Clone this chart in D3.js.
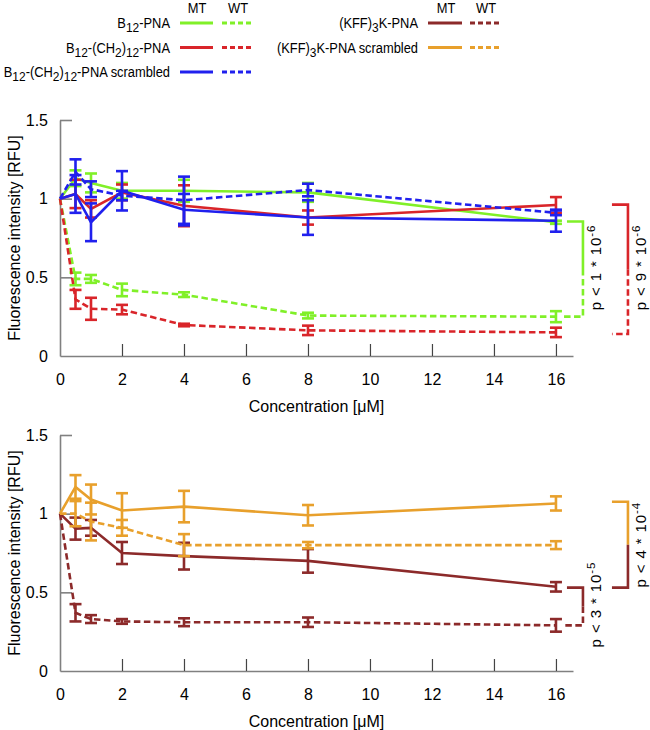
<!DOCTYPE html>
<html><head><meta charset="utf-8">
<script src="https://cdn.jsdelivr.net/npm/d3@7"></script>
<style>
body{margin:0;background:#fff;}
svg{display:block;font-family:"Liberation Sans",Arial,sans-serif;}
</style></head><body>
<svg id="c" width="650" height="730"></svg>
<script>
// ---------- data ----------
const conc = [0, 0.5, 1, 2, 4, 8, 16];
const xTicks = [0, 2, 4, 6, 8, 10, 12, 14, 16];
const yTicks = [0, 0.5, 1, 1.5];
const yTickLabels = ["0", "0.5", "1", "1.5"];

// top panel
const b12pnaMT      = [1, 1.13, 1.10, 1.05, 1.05, 1.04, 0.85];
const b12pnaMTErr   = [0, 0.05, 0.06, 0.05, 0.07, 0.06, 0.01];
const b12pnaWT      = [1, 0.49, 0.49, 0.42, 0.39, 0.257, 0.25];
const b12pnaWTErr   = [0, 0.04, 0.025, 0.04, 0.015, 0.018, 0.035];
const b12ch2MT      = [1, 1.03, 0.935, 1.04, 0.955, 0.88, 0.96];
const b12ch2MTErr   = [0, 0.09, 0.055, 0.05, 0.13, 0.045, 0.05];
const b12ch2WT      = [1, 0.36, 0.30, 0.295, 0.197, 0.163, 0.15];
const b12ch2WTErr   = [0, 0.06, 0.07, 0.03, 0.008, 0.03, 0.03];
const b12scrMT      = [1, 1.03, 0.85, 1.05, 0.93, 0.88, 0.86];
const b12scrMTErr   = [0, 0.12, 0.12, 0.125, 0.10, 0.11, 0.07];
const b12scrWT      = [1, 1.17, 1.06, 1.02, 0.99, 1.055, 0.91];
const b12scrWTErr   = [0, 0.08, 0.05, 0.03, 0.15, 0.04, 0.015];

// bottom panel
const kffMT         = [1, 0.905, 0.91, 0.75, 0.73, 0.70, 0.535];
const kffMTErr      = [0, 0.07, 0.05, 0.07, 0.085, 0.075, 0.03];
const kffWT         = [1, 0.37, 0.33, 0.315, 0.31, 0.31, 0.29];
const kffWTErr      = [0, 0.055, 0.025, 0.015, 0.025, 0.03, 0.04];
const kffScrMT      = [1, 1.17, 1.09, 1.02, 1.045, 0.99, 1.065];
const kffScrMTErr   = [0, 0.075, 0.095, 0.11, 0.10, 0.065, 0.045];
const kffScrWT      = [1, 1.0, 0.95, 0.91, 0.80, 0.80, 0.80];
const kffScrWTErr   = [0, 0.08, 0.12, 0.05, 0.07, 0.02, 0.025];

const cGreen = "#80f028", cRed = "#d9252a", cBlue = "#2020ee",
      cMaroon = "#8c2a2a", cOrange = "#e8a02c";

const legendLeft = [
  {parts: [["B",0],["12",1],["-PNA",0]], color: cGreen},
  {parts: [["B",0],["12",1],["-(CH",0],["2",1],[")",0],["12",1],["-PNA",0]], color: cRed},
  {parts: [["B",0],["12",1],["-(CH",0],["2",1],[")",0],["12",1],["-PNA scrambled",0]], color: cBlue}
];
const legendRight = [
  {parts: [["(KFF)",0],["3",1],["K-PNA",0]], color: cMaroon},
  {parts: [["(KFF)",0],["3",1],["K-PNA scrambled",0]], color: cOrange}
];

const panels = [
  {top: 120, bottom: 356, series: [
    {v: b12pnaMT, e: b12pnaMTErr, c: cGreen, dash: false},
    {v: b12pnaWT, e: b12pnaWTErr, c: cGreen, dash: true},
    {v: b12ch2MT, e: b12ch2MTErr, c: cRed, dash: false},
    {v: b12ch2WT, e: b12ch2WTErr, c: cRed, dash: true},
    {v: b12scrMT, e: b12scrMTErr, c: cBlue, dash: false},
    {v: b12scrWT, e: b12scrWTErr, c: cBlue, dash: true}
  ]},
  {top: 435, bottom: 671, series: [
    {v: kffMT, e: kffMTErr, c: cMaroon, dash: false},
    {v: kffWT, e: kffWTErr, c: cMaroon, dash: true},
    {v: kffScrMT, e: kffScrMTErr, c: cOrange, dash: false},
    {v: kffScrWT, e: kffScrWTErr, c: cOrange, dash: true}
  ]}
];

// significance brackets
const brackets = [
  {panel: 0, hi: 0.855, lo: 0.25, cHi: cGreen, cLo: cGreen, dHi: false, dLo: true, col: 0, txt: "p < 1 * 10", exp: "-6", textStart: 0.29},
  {panel: 0, hi: 0.962, lo: 0.14, cHi: cRed, cLo: cRed, dHi: false, dLo: true, col: 1, txt: "p < 9 * 10", exp: "-6", textStart: 0.29},
  {panel: 1, hi: 0.53, lo: 0.29, cHi: cMaroon, cLo: cMaroon, dHi: false, dLo: true, col: 0, txt: "p < 3 * 10", exp: "-5", textStart: 0.15},
  {panel: 1, hi: 1.076, lo: 0.53, cHi: cOrange, cLo: cMaroon, dHi: false, dLo: false, col: 1, txt: "p < 4 * 10", exp: "-4", textStart: 0.53}
];

// ---------- drawing ----------
const svg = d3.select("#c");
const axisColor = "#808080";
const DASH = "6.5,3.5";

const x = d3.scaleLinear().domain([0, 16.55]).range([60, 573]);

panels.forEach((p, pi) => {
  const y = d3.scaleLinear().domain([0, 1.5]).range([p.bottom, p.top]);
  p.y = y;
  const g = svg.append("g");

  const ya = g.append("g").attr("transform", `translate(${x(0)},0)`)
    .call(d3.axisLeft(y).tickValues(yTicks).tickFormat((d, i) => yTickLabels[i])
      .tickSizeInner(-12).tickSizeOuter(0).tickPadding(12));
  const xa = g.append("g").attr("transform", `translate(0,${p.bottom})`)
    .call(d3.axisBottom(x).tickValues(xTicks).tickFormat(d3.format("d"))
      .tickSizeInner(-12).tickSizeOuter(0).tickPadding(18));
  [ya, xa].forEach(a => {
    a.selectAll("path.domain").attr("stroke", axisColor).attr("stroke-width", 1.6);
    a.selectAll(".tick line").attr("stroke", "#444").attr("stroke-width", 1.2);
    a.selectAll("text").attr("font-size", 16).attr("fill", "#000")
      .attr("font-family", "'Liberation Sans',Arial,sans-serif");
  });
  ya.selectAll(".tick").filter(d => d === 0).select("line").remove();
  xa.selectAll(".tick").filter(d => d === 0).select("line").remove();
  ya.selectAll(".tick line").attr("stroke", axisColor).attr("stroke-width", 1.6);

  g.append("text").attr("x", (x(0) + x(16.55)) / 2).attr("y", p.bottom + 56)
    .attr("text-anchor", "middle").attr("font-size", 16).text("Concentration [μM]");
  g.append("text").attr("transform", `translate(20,${(p.top + p.bottom) / 2}) rotate(-90)`)
    .attr("text-anchor", "middle").attr("font-size", 16).text("Fluorescence intensity [RFU]");

  const line = d3.line().x((d, i) => x(conc[i])).y(d => y(d));

  p.series.forEach(s => {
    const sg = g.append("g");
    sg.append("path").datum(s.v).attr("d", line).attr("fill", "none")
      .attr("stroke", s.c).attr("stroke-width", 2.6)
      .attr("stroke-dasharray", s.dash ? DASH : null);
    const pts = s.v.map((v, i) => ({x: conc[i], v, e: s.e[i]})).filter(d => d.e > 0);
    const eb = sg.selectAll("g.eb").data(pts).join("g").attr("stroke", s.c).attr("stroke-width", 2.6);
    eb.append("line").attr("x1", d => x(d.x)).attr("x2", d => x(d.x))
      .attr("y1", d => y(d.v + d.e)).attr("y2", d => y(d.v - d.e));
    eb.append("line").attr("x1", d => x(d.x) - 6).attr("x2", d => x(d.x) + 6)
      .attr("y1", d => y(d.v + d.e)).attr("y2", d => y(d.v + d.e));
    eb.append("line").attr("x1", d => x(d.x) - 6).attr("x2", d => x(d.x) + 6)
      .attr("y1", d => y(d.v - d.e)).attr("y2", d => y(d.v - d.e));
  });
});

// brackets
brackets.forEach(b => {
  const y = panels[b.panel].y;
  const x16 = x(16);
  const xr = b.col === 0 ? x16 + 27 : x16 + 72;
  const xl = b.col === 0 ? x16 + 11 : x16 + 56;
  const xlLo = b.col === 0 ? x16 + 7 : x16 + 56;
  const mid = (y(b.hi) + y(b.lo)) / 2;
  const g = svg.append("g").attr("fill", "none").attr("stroke-width", 2.6);
  g.append("path").attr("d", `M${xl},${y(b.hi)}H${xr}V${mid}`)
    .attr("stroke", b.cHi).attr("stroke-dasharray", b.dHi ? DASH : null);
  g.append("path").attr("d", `M${xr},${mid}V${y(b.lo)}H${xlLo}`)
    .attr("stroke", b.cLo).attr("stroke-dasharray", b.dLo ? DASH : null);
  const tx = xr + 18;
  const ty = y(b.textStart);
  const t = svg.append("text").attr("transform", `translate(${tx},${ty}) rotate(-90)`)
    .attr("font-size", 15).attr("fill", "#000").attr("letter-spacing", 0.9);
  t.append("tspan").text(b.txt);
  t.append("tspan").attr("dy", -6).attr("font-size", 11.5).text(b.exp);
});

// legend
const SX = 0.92;
function legendText(sel, parts) {
  parts.forEach(([s, sub], i) => {
    const prevSub = i > 0 ? parts[i - 1][1] : 0;
    const dy = sub && !prevSub ? 4 : (!sub && prevSub ? -4 : 0);
    sel.append("tspan").attr("dy", dy).attr("font-size", sub ? 13 : 14).text(s);
  });
}
function drawLegend(items, textRight, solidX, dashX, mtX, wtX) {
  const g = svg.append("g");
  g.append("text").attr("transform", `translate(${mtX},13) scale(${SX},1)`).attr("text-anchor", "middle").attr("font-size", 14).text("MT");
  g.append("text").attr("transform", `translate(${wtX},13) scale(${SX},1)`).attr("text-anchor", "middle").attr("font-size", 14).text("WT");
  items.forEach((it, i) => {
    const cy = 23 + i * 24.5;
    const t = g.append("text").attr("transform", `translate(${textRight},${cy + 5}) scale(${SX},1)`)
      .attr("text-anchor", "end");
    legendText(t, it.parts);
    g.append("line").attr("x1", solidX[0]).attr("x2", solidX[1]).attr("y1", cy).attr("y2", cy)
      .attr("stroke", it.color).attr("stroke-width", 3);
    g.append("line").attr("x1", dashX[0]).attr("x2", dashX[1]).attr("y1", cy).attr("y2", cy)
      .attr("stroke", it.color).attr("stroke-width", 3).attr("stroke-dasharray", "5,3");
  });
}
drawLegend(legendLeft, 170, [180, 213], [222, 254], 197, 238);
drawLegend(legendRight, 418, [428, 462], [470, 502], 446, 486);
</script>
</body></html>
